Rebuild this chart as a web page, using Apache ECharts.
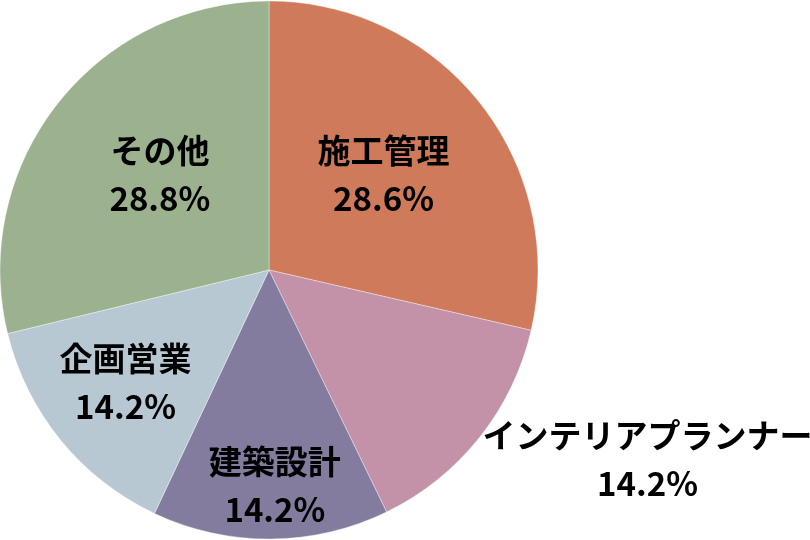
<!DOCTYPE html>
<html><head><meta charset="utf-8">
<script src="https://cdn.jsdelivr.net/npm/echarts@6/dist/echarts.min.js"></script>
<style>html,body{margin:0;padding:0;background:#fff}#c{width:810px;height:540px}</style>
</head><body><div id="c"></div>
<script>
const categories = ['施工管理', 'インテリアプランナー', '建築設計', '企画営業', 'その他'];
const values = [28.6, 14.2, 14.2, 14.2, 28.8];
const colors = ['#CF7A5B', '#C492A8', '#837C9E', '#B8C8D2', '#9CB28F'];
const labelOffsets = [[7, -10], [271, 104], [5, 78], [-37, 25], [-1, -11]];

const chart = echarts.init(document.getElementById('c'));
chart.setOption({
  animation: false,
  series: [{
    type: 'pie',
    center: [269, 270],
    radius: [0, 269],
    startAngle: 90,
    clockwise: true,
    itemStyle: { borderColor: 'rgba(255,255,255,0.6)', borderWidth: 0.6 },
    label: {
      position: 'inside',
      formatter: p => p.name + '\n' + p.value.toFixed(1) + '%',
      fontFamily: 'Noto Sans CJK JP',
      fontWeight: 'bold',
      fontSize: 33,
      lineHeight: 48,
      color: '#000'
    },
    labelLine: { show: false },
    data: categories.map((c, i) => ({
      name: c,
      value: values[i],
      itemStyle: { color: colors[i] },
      label: { offset: labelOffsets[i] }
    }))
  }]
});
</script></body></html>
